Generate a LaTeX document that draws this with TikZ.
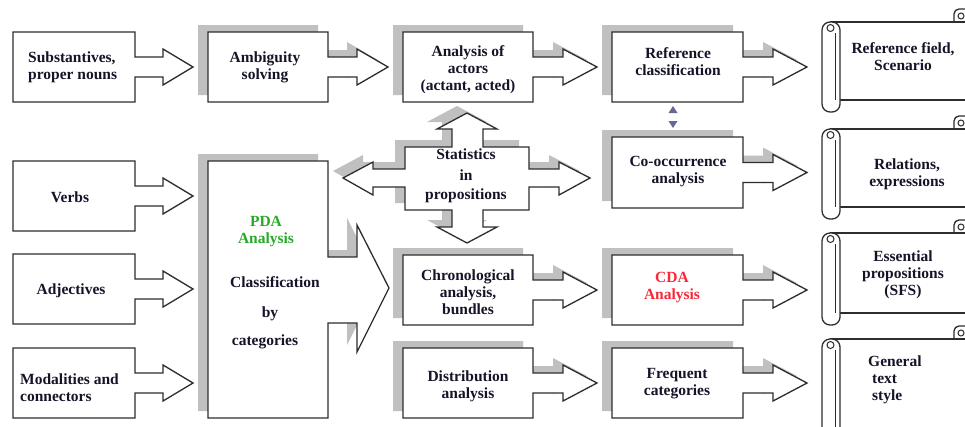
\documentclass[tikz,border=0pt]{standalone}
\usepackage{fontspec}
\setmainfont{Liberation Serif}
\definecolor{shade}{RGB}{192,192,192}
\definecolor{edge}{RGB}{45,45,45}
\definecolor{txt}{RGB}{20,20,40}
\definecolor{pdagreen}{RGB}{40,170,40}
\definecolor{cdared}{RGB}{250,40,55}
\definecolor{tri}{RGB}{100,105,150}
\tikzset{
  shapeline/.style={draw=edge, line width=1.3pt, fill=white, line join=miter},
  shadowfill/.style={fill=shade, draw=none},
  lbl/.style={font=\fontsize{15.5}{17}\selectfont\bfseries, text=txt, align=center, inner sep=0pt},
}
% L T R B headbase tip style
\newcommand\cpath[7]{%
  \pgfmathsetmacro\cy{(#2+#4)/2}%
  \pgfmathsetmacro\ua{\cy-10}\pgfmathsetmacro\ub{\cy+10}%
  \pgfmathsetmacro\ha{\cy-18}\pgfmathsetmacro\hb{\cy+18}%
  \path[#7] (#1,#2) -- (#3,#2) -- (#3,\ua) -- (#5,\ua) -- (#5,\ha) -- (#6,\cy) -- (#5,\hb) -- (#5,\ub) -- (#3,\ub) -- (#3,#4) -- (#1,#4) -- cycle;}
\newcommand\calloutS[6]{%
  \cpath{#1}{#2}{#3}{#4}{#5}{#6}{shadowfill,xshift=-10pt,yshift=7pt}%
  \cpath{#1}{#2}{#3}{#4}{#5}{#6}{shapeline}}
\newcommand\calloutN[6]{%
  \cpath{#1}{#2}{#3}{#4}{#5}{#6}{shapeline}}
% scroll: top bottom
\newcommand\scrollshape[2]{%
  \pgfmathsetmacro\sa{#1-13}\pgfmathsetmacro\sb{#1-6}%
  \pgfmathsetmacro\sc{#2+12}\pgfmathsetmacro\sd{#1+6}\pgfmathsetmacro\se{#1+11}%
  \path[shapeline,rounded corners=5] (954,#1) -- (954,\sa) -- (980,\sa) -- (980,#1);
  \path[draw=edge,line width=1pt] (961,\sb) circle[radius=3];
  \path[shapeline] (831,#1) -- (980,#1) -- (980,#2) -- (831,#2) -- cycle;
  \path[shapeline,rounded corners=8] (822,#1) rectangle (840,\sc);
  \path[draw=edge,line width=1pt] (835.5,\se) -- (835.5,#2);
  \path[draw=edge,line width=1pt] (830.5,\sd) circle[radius=3.5];}
\begin{document}
\begin{tikzpicture}[x=1pt,y=-1pt]
\useasboundingbox (0,0) rectangle (965,426);
\clip (0,0) rectangle (965,426);
\fill[white] (0,0) rectangle (965,426);

% left column (no shadow)
\calloutN{13}{32}{135}{102}{163}{193}
\calloutN{13}{161}{135}{231}{163}{193}
\calloutN{13}{254}{135}{324}{163}{193}
\calloutN{13}{348}{135}{418}{163}{193}

% ambiguity
\calloutS{208}{32}{328}{102}{357}{388}

% PDA big shape
\path[shadowfill,xshift=-10pt,yshift=7pt] (208,161) -- (328,161) -- (328,257) -- (357,257) -- (357,225) -- (389,288) -- (357,352) -- (357,323) -- (328,323) -- (328,418) -- (208,418) -- cycle;
\path[shapeline] (208,161) -- (328,161) -- (328,257) -- (357,257) -- (357,225) -- (389,288) -- (357,352) -- (357,323) -- (328,323) -- (328,418) -- (208,418) -- cycle;

% third column
\calloutS{403}{32}{533}{102}{563}{597}
\calloutS{403}{255}{533}{325}{563}{597}
\calloutS{403}{348}{533}{418}{563}{597}

% statistics cross
\path[shadowfill,xshift=-10pt,yshift=7pt] (405,147) -- (452,147) -- (452,129) -- (437,129) -- (467,113) -- (497,129) -- (483,129) -- (483,147) -- (529,147) -- (529,169) -- (559,169) -- (559,162) -- (590,178) -- (559,195) -- (559,187) -- (529,187) -- (529,210) -- (483,210) -- (483,227) -- (497,227) -- (467,243) -- (437,227) -- (452,227) -- (452,210) -- (405,210) -- (405,187) -- (373,187) -- (373,195) -- (343,178) -- (373,162) -- (373,169) -- (405,169) -- cycle;
\path[shapeline] (405,147) -- (452,147) -- (452,129) -- (437,129) -- (467,113) -- (497,129) -- (483,129) -- (483,147) -- (529,147) -- (529,169) -- (559,169) -- (559,162) -- (590,178) -- (559,195) -- (559,187) -- (529,187) -- (529,210) -- (483,210) -- (483,227) -- (497,227) -- (467,243) -- (437,227) -- (452,227) -- (452,210) -- (405,210) -- (405,187) -- (373,187) -- (373,195) -- (343,178) -- (373,162) -- (373,169) -- (405,169) -- cycle;

% fourth column
\calloutS{612}{32}{743}{102}{773}{807}
\calloutS{612}{137}{743}{208}{773}{807}
\calloutS{612}{255}{743}{325}{773}{807}
\calloutS{612}{348}{743}{418}{773}{807}

% small double arrow heads
\fill[tri] (668.5,113) -- (677.5,113) -- (673,106) -- cycle;
\fill[tri] (668.5,121) -- (677.5,121) -- (673,128) -- cycle;

% scrolls
\scrollshape{22}{100}
\scrollshape{129}{207}
\scrollshape{233}{313}
\scrollshape{339}{440}

% labels
\node[lbl,align=left,anchor=west] (sub) at (28,67) {Substantives,\\proper nouns};
\node[lbl] (verbs) at (70,197) {Verbs};
\node[lbl] (adj) at (71,291) {Adjectives};
\node[lbl,align=left,anchor=west] (mod) at (20,388) {Modalities and\\connectors};
\node[lbl] (amb) at (265,67) {Ambiguity\\solving};
\node[lbl,text=pdagreen] (pda) at (266,232) {PDA\\Analysis};
\node[lbl] (cls) at (275,282) {Classification};
\node[lbl] (by) at (270,314) {by};
\node[lbl] (cat) at (265,342) {categories};
\node[lbl] (act) at (468,70) {Analysis of\\actors\\(actant, acted)};
\node[lbl,align=center] (stat) at (466,176) {Statistics\\[4pt]in\\[2pt]propositions};
\node[lbl] (chron) at (468,292) {Chronological\\analysis,\\bundles};
\node[lbl] (dist) at (468,386) {Distribution\\analysis};
\node[lbl] (ref) at (678,62) {Reference\\classification};
\node[lbl] (cooc) at (678,172) {Co-occurrence\\analysis};
\node[lbl,text=cdared] (cda) at (672,288) {CDA\\Analysis};
\node[lbl] (freq) at (677,384) {Frequent\\categories};
\node[lbl] (rfs) at (903,57) {Reference field,\\Scenario};
\node[lbl] (rel) at (907,174) {Relations,\\expressions};
\node[lbl] (ess) at (903,275) {Essential\\propositions\\(SFS)};
\node[lbl,align=left,anchor=west] (gen) at (868,380) {General\\\ text\\\ style};
\end{tikzpicture}
\end{document}
